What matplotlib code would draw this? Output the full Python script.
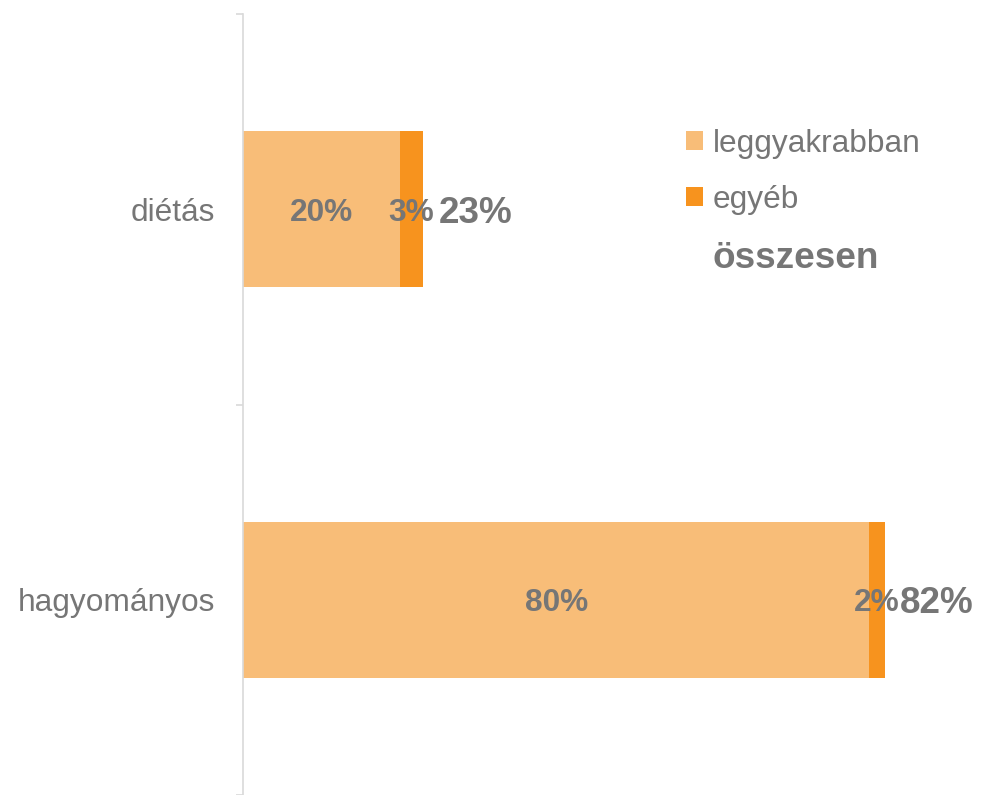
import matplotlib
matplotlib.use("Agg")
import matplotlib.pyplot as plt
from matplotlib.patches import Rectangle
import numpy as np

categories = ["diétás", "hagyományos"]
leggyakrabban = [20, 80]
egyeb = [3, 2]
osszesen = [23, 82]
series_names = ["leggyakrabban", "egyéb", "összesen"]

c_light = "#F8BD78"
c_dark = "#F7931E"
txt = "#767676"
fam = ["Liberation Sans", "DejaVu Sans"]
plt.rcParams["font.family"] = fam

fig = plt.figure(figsize=(9.84, 7.95), dpi=100)
ax = fig.add_axes([243/984, 0.0, 1 - 243/984, 1 - 14/795])

y = np.arange(len(categories))
h = 0.4
b1 = ax.barh(y, leggyakrabban, height=h, color=c_light, label=series_names[0])
b2 = ax.barh(y, egyeb, left=leggyakrabban, height=h, color=c_dark, label=series_names[1])

fs = 22.75
fs_tot = 26.6
for i in range(len(categories)):
    ax.text(leggyakrabban[i] / 2, y[i], f"{leggyakrabban[i]}%", ha="center", va="center_baseline",
            fontsize=fs, fontweight="bold", color=txt)
    ax.text(leggyakrabban[i] + egyeb[i] / 2, y[i], f"{egyeb[i]}%", ha="center", va="center_baseline",
            fontsize=fs, fontweight="bold", color=txt)
    ax.annotate(f"{osszesen[i]}%", xy=(osszesen[i], y[i]), xytext=(11, 0),
                textcoords="offset points", ha="left", va="center_baseline",
                fontsize=fs_tot, fontweight="bold", color=txt)

ax.set_xlim(0, 741 / 7.83)
ax.set_ylim(1.5, -0.5)

for s in ["top", "right", "bottom"]:
    ax.spines[s].set_visible(False)
ax.spines["left"].set_color("#D9D9D9")
ax.spines["left"].set_linewidth(1.2)
ax.set_xticks([])
ax.set_yticks([-0.5, 0.5, 1.5])
ax.set_yticklabels([])
ax.tick_params(axis="y", which="major", length=5, color="#D9D9D9", width=1.2)
ax.set_yticks(y, minor=True)
ax.set_yticklabels(categories, minor=True)
ax.tick_params(axis="y", which="minor", length=0, pad=20, labelsize=fs, labelcolor=txt)

tot_handle = Rectangle((0, 0), 1, 1, alpha=0)
leg = ax.legend([b1, b2, tot_handle], series_names, loc="upper left",
                bbox_to_anchor=(430/741, (795-116)/781), frameon=False,
                prop={"size": fs}, handlelength=0.55, handleheight=0.55,
                handletextpad=0.3, labelspacing=0.83, borderaxespad=0)
for t in leg.get_texts():
    t.set_color(txt)
lt = leg.get_texts()[2]
lt.set_fontweight("bold")
lt.set_fontsize(fs_tot)

fig.savefig("out.png", dpi=100)
